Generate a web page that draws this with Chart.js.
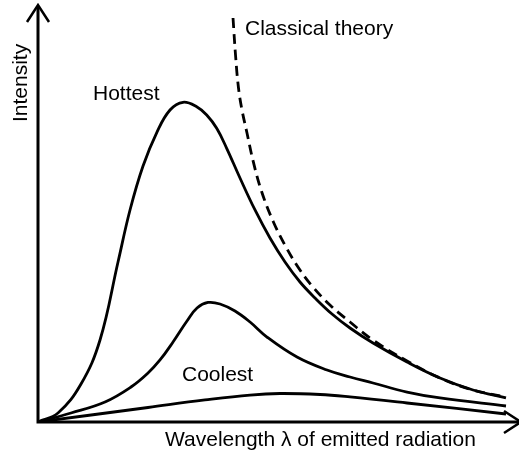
<!DOCTYPE html>
<html>
<head>
<meta charset="utf-8">
<script src="https://cdn.jsdelivr.net/npm/chart.js@4/dist/chart.umd.min.js"></script>
<style>
  html, body { margin: 0; padding: 0; background: #ffffff; }
</style>
</head>
<body>
<canvas id="chart" width="519" height="454"></canvas>
<script>
// Blackbody spectra, arbitrary units (wavelength 0-100, intensity 0-100)
const hottestWavelength = [0, 4.17, 8.96, 12.92, 16.67, 19.17, 21.88, 24.79, 27.5, 30.21, 33.06, 35.15, 37.23, 39.31, 42.08, 45.21, 48.33, 51.46, 54.58, 57.71, 61.25, 65.0, 69.79, 76.88, 83.75, 90.63, 97.5];
const hottestIntensity  = [0, 2.16, 9.11, 19.66, 38.37, 50.84, 61.39, 69.54, 74.82, 76.67, 75.61, 73.62, 70.43, 65.64, 58.51, 50.84, 44.12, 38.37, 33.57, 29.74, 25.90, 22.54, 18.94, 14.39, 10.55, 7.67, 5.76];

const middleWavelength = [0, 6.88, 13.96, 19.38, 22.92, 25.42, 28.13, 31.04, 33.13, 35.42, 37.92, 41.04, 44.17, 47.71, 53.96, 60.21, 65.0, 69.79, 76.88, 83.75, 97.5];
const middleIntensity  = [0, 2.16, 4.80, 8.39, 11.75, 14.87, 19.18, 24.22, 27.34, 28.66, 28.30, 26.62, 23.98, 20.38, 15.59, 12.47, 10.79, 9.35, 7.19, 5.76, 3.84];

const coolestWavelength = [0, 22.92, 34.79, 44.17, 50.42, 58.75, 65.0, 76.88, 97.5];
const coolestIntensity  = [0, 3.48, 5.28, 6.47, 6.83, 6.59, 6.0, 4.56, 1.92];

const classicalWavelength = [40.63, 41.15, 41.77, 42.5, 43.54, 44.85, 46.60, 49.02, 51.81, 54.58, 57.29, 60.83, 65.0, 69.79, 76.88, 83.75, 90.63, 97.5];
const classicalIntensity  = [96.88, 88.01, 80.10, 74.82, 69.30, 62.42, 55.23, 48.03, 41.65, 36.45, 32.37, 28.06, 23.98, 19.66, 14.63, 10.55, 7.67, 6.0];

const toPoints = (xs, ys) => xs.map((x, i) => ({ x: x, y: ys[i] }));

const FONT = '21px "Liberation Sans", Arial, Helvetica, sans-serif';

// axes with arrow heads, plus the free text labels
const axesAndLabels = {
  id: 'axesAndLabels',
  beforeDatasetsDraw(chart) {
    const { ctx, chartArea: a } = chart;
    ctx.save();
    ctx.strokeStyle = '#000000';
    ctx.lineWidth = 3;
    ctx.beginPath();
    ctx.moveTo(a.left, a.top + 1);
    ctx.lineTo(a.left, a.bottom);
    ctx.lineTo(a.right + 2, a.bottom);
    ctx.stroke();

    ctx.lineWidth = 2.5;
    ctx.beginPath();
    ctx.moveTo(a.left - 11, a.top + 17);
    ctx.lineTo(a.left, a.top);
    ctx.lineTo(a.left + 11, a.top + 17);
    ctx.moveTo(a.right - 14, a.bottom - 11);
    ctx.lineTo(a.right + 3, a.bottom);
    ctx.lineTo(a.right - 14, a.bottom + 11);
    ctx.stroke();
    ctx.restore();
  },
  afterDraw(chart) {
    const { ctx, chartArea: a } = chart;
    ctx.save();
    ctx.fillStyle = '#000000';
    ctx.font = FONT;
    ctx.textBaseline = 'alphabetic';
    ctx.textAlign = 'left';
    ctx.fillText('Hottest', 93, 100);
    ctx.fillText('Classical theory', 245, 35);
    ctx.fillText('Coolest', 182, 381);
    ctx.fillText('Wavelength \u03bb of emitted radiation', 165, a.bottom + 24);

    ctx.translate(a.left - 11, 122);
    ctx.rotate(-Math.PI / 2);
    ctx.fillText('Intensity', 0, 0);
    ctx.restore();
  }
};

const lineStyle = {
  borderColor: '#000000',
  borderWidth: 2.8,
  pointRadius: 0,
  fill: false,
  tension: 0.4,
};

new Chart(document.getElementById('chart').getContext('2d'), {
  type: 'line',
  data: {
    datasets: [
      { ...lineStyle, label: 'Hottest', data: toPoints(hottestWavelength, hottestIntensity) },
      { ...lineStyle, label: 'Middle', data: toPoints(middleWavelength, middleIntensity) },
      { ...lineStyle, label: 'Coolest', data: toPoints(coolestWavelength, coolestIntensity) },
      { ...lineStyle, label: 'Classical theory', borderDash: [10, 6], data: toPoints(classicalWavelength, classicalIntensity) },
    ],
  },
  options: {
    responsive: false,
    animation: false,
    events: [],
    layout: { padding: { left: 38, right: 1, top: 5, bottom: 32 } },
    plugins: {
      legend: { display: false },
      tooltip: { enabled: false },
    },
    scales: {
      x: { type: 'linear', min: 0, max: 100, display: false },
      y: { type: 'linear', min: 0, max: 100, display: false },
    },
  },
  plugins: [axesAndLabels],
});
</script>
</body>
</html>
